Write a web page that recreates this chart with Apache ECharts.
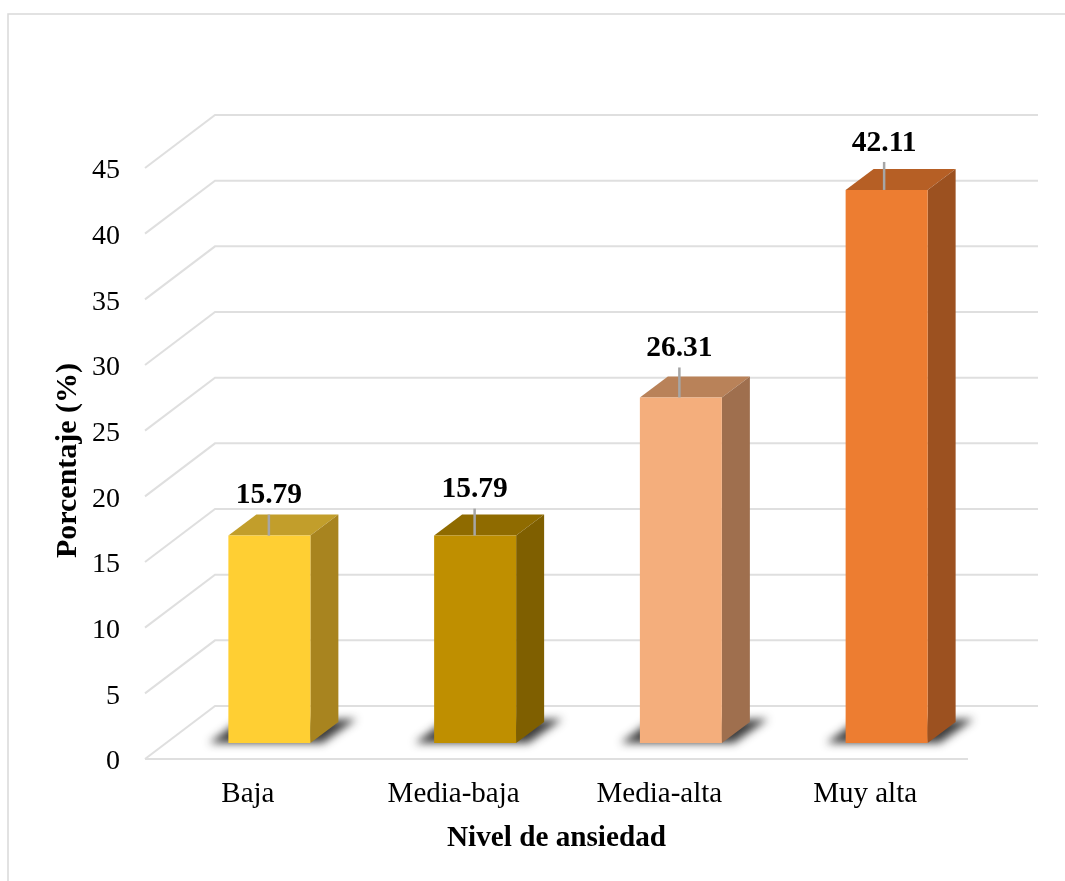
<!DOCTYPE html>
<html lang="es">
<head>
<meta charset="utf-8">
<title>Nivel de ansiedad</title>
<style>html,body{margin:0;padding:0;background:#fff}#chart{width:1065px;height:881px}</style>
<script src="https://cdn.jsdelivr.net/npm/echarts@6/dist/echarts.min.js"></script>
</head>
<body>
<div id="chart"></div>
<script>
// Anxiety level distribution
const categories = ['Baja', 'Media-baja', 'Media-alta', 'Muy alta'];
const percentages = [15.79, 15.79, 26.31, 42.11];
const gridTicks = [0, 5, 10, 15, 20, 25, 30, 35, 40, 45];

// Height and sideways drift of each value label's grey leader line
const leaderLengths = [21, 27, 30, 28];
const leaderDrift = [-0.5, -0.5, -1.5, -2.5];

// Faces of each column: front, top, side
const faceColors = [
  ['#FFCF33', '#C29E2B', '#A8841F'],
  ['#BF8F00', '#8F6B00', '#7F5F00'],
  ['#F4AE7C', '#B98259', '#9F6F4E'],
  ['#ED7D31', '#B65F25', '#9C5120']
];

const FONT = '"Liberation Serif", "Times New Roman", serif';
const WALL_DX = 70, WALL_DY = 53;      // floor depth, front edge to back wall
const BAR_DX = 21.5, BAR_DY = 16;      // column's front face, inset from the front edge
const BAR_HALF = 41, BAR_SIDE_DX = 28, BAR_SIDE_DY = 21;
const SHADOW_SHIFT = 3000;             // floor shadow is cast from a shape parked off canvas

function poly(points, style) {
  return { type: 'polygon', shape: { points }, style };
}

function renderGridLine(params, api) {
  const cs = params.coordSys;
  const y = api.coord([0, api.value(0)])[1];
  const lineStyle = { stroke: '#dfdfdf', lineWidth: 2, fill: null, lineJoin: 'miter' };
  const children = [{
    type: 'polyline',
    shape: { points: [
      [cs.x, y],
      [cs.x + WALL_DX, y - WALL_DY],
      [cs.x + cs.width + WALL_DX, y - WALL_DY]
    ] },
    style: lineStyle
  }];
  if (api.value(0) === 0) {
    children.push({
      type: 'line',
      shape: { x1: cs.x, y1: y, x2: cs.x + cs.width, y2: y },
      style: lineStyle
    });
  }
  return { type: 'group', children };
}

function renderColumn(params, api) {
  const i = params.dataIndex;
  const [front, top, side] = faceColors[i];
  const topPt = api.coord([api.value(0), api.value(1)]);
  const basePt = api.coord([api.value(0), 0]);
  const cx = topPt[0] + BAR_DX;
  const x0 = cx - BAR_HALF, x1 = cx + BAR_HALF;
  const yBase = basePt[1] - BAR_DY;
  // same scale as the axis, measured from the column's own base
  const yTop = topPt[1] - BAR_DY;
  const sx = BAR_SIDE_DX, sy = BAR_SIDE_DY;
  const leaderX = cx + leaderDrift[i];
  const leaderTop = yTop - leaderLengths[i];
  const S = SHADOW_SHIFT;
  return {
    type: 'group',
    children: [
      poly([[x0 - 19 - S, yBase], [x0 + 8 - S, yBase - 20], [x1 + 46 - S, yBase - 24], [x1 + 12 - S, yBase]], {
        fill: '#333', shadowBlur: 9, shadowColor: 'rgba(40,40,40,0.9)', shadowOffsetX: S
      }),
      poly([[x0, yTop], [x1, yTop], [x1 + sx, yTop - sy], [x0 + sx, yTop - sy]], { fill: top }),
      poly([[x1, yTop], [x1 + sx, yTop - sy], [x1 + sx, yBase - sy], [x1, yBase]], { fill: side }),
      { type: 'rect', shape: { x: x0, y: yTop, width: x1 - x0, height: yBase - yTop }, style: { fill: front } },
      { type: 'line', shape: { x1: leaderX, y1: yTop, x2: leaderX, y2: leaderTop },
        style: { stroke: '#a6a6a6', lineWidth: 2.5 } },
      { type: 'text', x: leaderX, y: leaderTop - 4,
        style: { text: api.value(1).toFixed(2), font: 'bold 29.5px ' + FONT, fill: '#000',
                 textAlign: 'center', textVerticalAlign: 'bottom' } }
    ]
  };
}

const chart = echarts.init(document.getElementById('chart'), null, { renderer: 'canvas' });
chart.setOption({
  animation: false,
  backgroundColor: '#fff',
  grid: { left: 145, top: 168, width: 823, height: 591, containLabel: false },
  xAxis: {
    type: 'category',
    data: categories,
    axisLine: { show: false },
    axisTick: { show: false },
    axisLabel: { color: '#000', fontFamily: FONT, fontSize: 29, margin: 21 },
    name: 'Nivel de ansiedad',
    nameLocation: 'middle',
    nameGap: 65,
    nameTextStyle: { color: '#000', fontFamily: FONT, fontSize: 29.2, fontWeight: 'bold' }
  },
  yAxis: {
    type: 'value',
    min: 0,
    max: 45,
    interval: 5,
    axisLine: { show: false },
    axisTick: { show: false },
    splitLine: { show: false },
    axisLabel: {
      color: '#000', fontFamily: FONT, fontSize: 28, margin: 25,
      formatter: '{t|{value}}',
      rich: { t: { color: '#000', fontFamily: FONT, fontSize: 28, padding: [6, 0, 0, 0] } }
    },
    name: 'Porcentaje (%)',
    nameLocation: 'middle',
    nameGap: 62,
    nameMoveOverlap: false,
    nameRotate: 90,
    nameTextStyle: { color: '#000', fontFamily: FONT, fontSize: 30, fontWeight: 'bold', padding: [0, 0, 0, 6] }
  },
  graphic: [{
    type: 'polyline',
    silent: true,
    shape: { points: [[8, 881], [8, 14], [1065, 14]] },
    style: { stroke: '#d9d9d9', lineWidth: 1.5, fill: null }
  }],
  series: [
    {
      type: 'custom',
      name: 'Cuadrícula',
      silent: true,
      clip: false,
      z: 1,
      renderItem: renderGridLine,
      encode: { y: 0 },
      data: gridTicks.map(v => [v])
    },
    {
      type: 'custom',
      name: 'Porcentaje',
      silent: true,
      clip: false,
      z: 2,
      renderItem: renderColumn,
      encode: { x: 0, y: 1 },
      data: percentages.map((v, i) => [i, v])
    }
  ]
});
</script>
</body>
</html>
